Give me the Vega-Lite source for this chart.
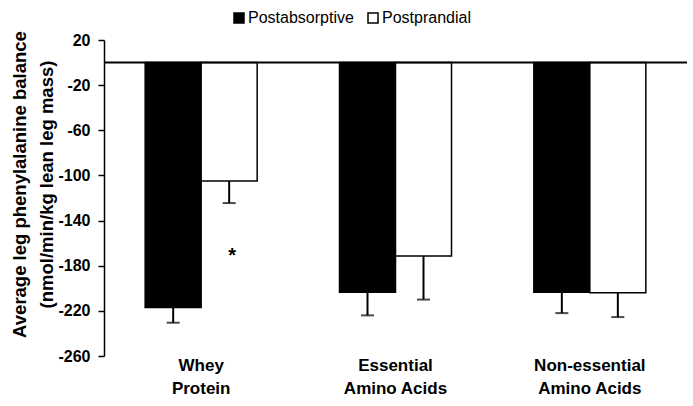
{
  "$schema": "https://vega.github.io/schema/vega-lite/v6.json",
  "width": 583,
  "height": 316,
  "autosize": {"type": "none"},
  "padding": {"left": 104, "top": 40, "right": 6, "bottom": 50},
  "background": "white",
  "config": {"view": {"stroke": null}, "font": "Liberation Sans"},
  "datasets": {
    "bars": [
      {"group": "Whey|Protein", "condition": "Postabsorptive", "value": -217, "lower": -230.5},
      {"group": "Whey|Protein", "condition": "Postprandial", "value": -105, "lower": -124.5},
      {"group": "Essential|Amino Acids", "condition": "Postabsorptive", "value": -203.5, "lower": -224},
      {"group": "Essential|Amino Acids", "condition": "Postprandial", "value": -171.5, "lower": -210},
      {"group": "Non-essential|Amino Acids", "condition": "Postabsorptive", "value": -203.5, "lower": -222},
      {"group": "Non-essential|Amino Acids", "condition": "Postprandial", "value": -204, "lower": -225.5}
    ],
    "star": [
      {"group": "Whey|Protein", "condition": "Postprandial", "label": "*", "value": -168}
    ]
  },
  "layer": [
    {
      "data": {"name": "bars"},
      "mark": {"type": "bar", "stroke": "black", "strokeWidth": 1.5},
      "encoding": {
        "x": {
          "field": "group", "type": "nominal",
          "sort": ["Whey|Protein", "Essential|Amino Acids", "Non-essential|Amino Acids"],
          "scale": {"paddingInner": 0, "paddingOuter": 0},
          "axis": {
            "title": null, "domain": false, "ticks": false, "labelAngle": 0,
            "labelFontSize": 17, "labelFontWeight": "bold", "labelColor": "black",
            "labelExpr": "split(datum.label, '|')", "labelLineHeight": 23,
            "labelPadding": 1, "labelBaseline": "top"
          }
        },
        "xOffset": {
          "field": "condition", "type": "nominal",
          "sort": ["Postabsorptive", "Postprandial"],
          "scale": {"paddingInner": 0, "paddingOuter": 0.735}
        },
        "y": {
          "field": "value", "type": "quantitative",
          "scale": {"domain": [-260, 20], "nice": false},
          "axis": {
            "title": ["Average leg phenylalanine balance", "(nmol/min/kg lean leg mass)"],
            "titleFontSize": 18.5, "titleFontWeight": "bold", "titleColor": "black",
            "titleLineHeight": 27, "titlePadding": 1, "titleY": 144,
            "values": [20, -20, -60, -100, -140, -180, -220, -260],
            "labelExpr": "toString(datum.value)",
            "grid": false, "tickSize": 6, "tickColor": "black", "tickWidth": 1.5,
            "domainColor": "black", "domainWidth": 1.5,
            "labelFontSize": 16, "labelFontWeight": "bold", "labelColor": "black",
            "labelPadding": 8
          }
        },
        "fill": {
          "field": "condition", "type": "nominal",
          "sort": ["Postabsorptive", "Postprandial"],
          "scale": {"range": ["black", "white"]},
          "legend": {
            "title": null, "orient": "none", "direction": "horizontal",
            "legendX": 127, "legendY": -30,
            "symbolType": "square", "symbolSize": 100,
            "symbolStrokeColor": "black", "symbolStrokeWidth": 1.5,
            "labelFontSize": 16, "labelColor": "black", "labelOffset": 1,
            "columnPadding": 11
          }
        }
      }
    },
    {
      "data": {"name": "bars"},
      "mark": {"type": "rule", "color": "black", "strokeWidth": 2},
      "encoding": {
        "x": {"field": "group", "type": "nominal", "sort": ["Whey|Protein", "Essential|Amino Acids", "Non-essential|Amino Acids"]},
        "xOffset": {"field": "condition", "type": "nominal", "sort": ["Postabsorptive", "Postprandial"]},
        "y": {"field": "value", "type": "quantitative"},
        "y2": {"field": "lower"}
      }
    },
    {
      "data": {"name": "bars"},
      "mark": {"type": "tick", "color": "black", "thickness": 2, "size": 13, "orient": "horizontal"},
      "encoding": {
        "x": {"field": "group", "type": "nominal", "sort": ["Whey|Protein", "Essential|Amino Acids", "Non-essential|Amino Acids"]},
        "xOffset": {"field": "condition", "type": "nominal", "sort": ["Postabsorptive", "Postprandial"]},
        "y": {"field": "lower", "type": "quantitative"}
      }
    },
    {
      "data": {"name": "star"},
      "mark": {"type": "text", "fontSize": 20, "fontWeight": "bold", "color": "black", "baseline": "middle", "dy": 4, "dx": 3},
      "encoding": {
        "x": {"field": "group", "type": "nominal", "sort": ["Whey|Protein", "Essential|Amino Acids", "Non-essential|Amino Acids"]},
        "xOffset": {"field": "condition", "type": "nominal", "sort": ["Postabsorptive", "Postprandial"]},
        "y": {"field": "value", "type": "quantitative"},
        "text": {"field": "label"}
      }
    },
    {
      "data": {"values": [{"zero": 0}]},
      "mark": {"type": "rule", "color": "black", "strokeWidth": 2},
      "encoding": {"y": {"field": "zero", "type": "quantitative"}}
    }
  ]
}
